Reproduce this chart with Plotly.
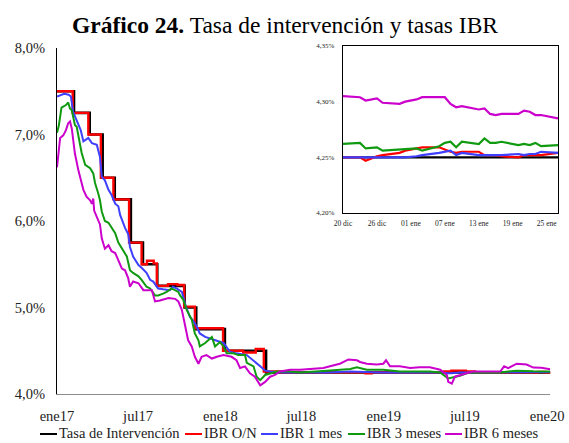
import plotly.graph_objects as go

FONT = "'Liberation Serif', 'Times New Roman', serif"

# ---------------- Main chart data (daily series) ----------------
tasa_dates = ["2017-01-20", "2017-02-27", "2017-04-03", "2017-05-02", "2017-05-29",
              "2017-07-04", "2017-07-31", "2017-09-01", "2017-11-01", "2017-11-27",
              "2018-01-30", "2018-05-02", "2020-01-27"]
tasa_vals = [7.50, 7.25, 7.00, 6.50, 6.25,
             5.75, 5.50, 5.25, 5.00, 4.75,
             4.50, 4.25, 4.25]

on_dates = ["2017-01-20", "2017-02-24", "2017-03-31", "2017-04-28", "2017-05-26",
            "2017-06-30", "2017-07-28", "2017-08-09", "2017-08-24", "2017-08-31",
            "2017-09-25", "2017-10-16", "2017-10-31", "2017-11-24", "2018-01-26",
            "2018-03-12", "2018-04-09", "2018-04-27", "2018-06-05", "2018-12-10",
            "2018-12-24", "2019-06-03", "2019-06-20", "2019-07-22", "2019-08-12",
            "2019-12-24", "2019-12-26", "2019-12-31", "2020-01-08", "2020-01-14",
            "2020-01-27"]
on_vals = [7.50, 7.25, 7.00, 6.50, 6.25,
           5.75, 5.50, 5.54, 5.51, 5.25,
           5.27, 5.26, 5.01, 4.76, 4.50,
           4.48, 4.52, 4.26, 4.25, 4.24,
           4.25, 4.26, 4.27, 4.26, 4.25,
           4.247, 4.251, 4.256, 4.255, 4.252,
           4.254]

ibr1_dates = ["2017-01-20", "2017-01-25", "2017-02-05", "2017-02-15", "2017-02-20",
              "2017-02-25", "2017-03-05", "2017-03-14", "2017-03-20", "2017-03-31",
              "2017-04-08", "2017-04-19", "2017-04-26", "2017-04-30", "2017-05-07",
              "2017-05-15", "2017-05-22", "2017-05-30", "2017-06-06", "2017-06-10",
              "2017-06-21", "2017-06-28", "2017-07-02", "2017-07-09", "2017-07-21",
              "2017-07-28", "2017-08-08", "2017-08-16", "2017-08-23", "2017-09-03",
              "2017-09-14", "2017-09-29", "2017-10-06", "2017-10-14", "2017-10-26",
              "2017-11-04", "2017-11-13", "2017-11-20", "2017-11-28", "2017-12-05",
              "2017-12-17", "2018-01-08", "2018-01-27", "2018-02-10", "2018-02-25",
              "2018-03-20", "2018-04-04", "2018-04-19", "2018-04-30", "2018-05-11",
              "2018-06-10", "2018-09-15", "2018-11-06", "2019-01-12", "2019-03-20",
              "2019-05-26", "2019-06-13", "2019-06-21", "2019-07-09", "2019-08-08",
              "2019-10-07", "2019-12-20", "2020-01-08", "2020-01-27"]
ibr1_vals = [7.44, 7.45, 7.47, 7.46, 7.44,
             7.26, 7.17, 7.05, 6.92, 6.96,
             6.90, 6.88, 6.74, 6.51, 6.47,
             6.36, 6.30, 6.20, 6.17, 6.07,
             5.92, 5.85, 5.70, 5.59, 5.49,
             5.46, 5.40, 5.32, 5.30, 5.22,
             5.21, 5.20, 5.24, 5.22, 5.18,
             5.01, 4.89, 4.85, 4.78, 4.70,
             4.66, 4.62, 4.59, 4.49, 4.47,
             4.45, 4.39, 4.32, 4.27, 4.26,
             4.25, 4.25, 4.26, 4.25, 4.25,
             4.25, 4.24, 4.24, 4.25, 4.25,
             4.25, 4.25, 4.256, 4.254]

ibr3_dates = ["2017-01-20", "2017-01-24", "2017-01-30", "2017-02-09", "2017-02-14",
              "2017-02-18", "2017-02-22", "2017-02-25", "2017-03-01", "2017-03-05",
              "2017-03-09", "2017-03-12", "2017-03-16", "2017-03-24", "2017-04-04",
              "2017-04-11", "2017-04-15", "2017-04-22", "2017-04-26", "2017-04-30",
              "2017-05-07", "2017-05-15", "2017-05-22", "2017-05-30", "2017-06-06",
              "2017-06-17", "2017-06-25", "2017-07-02", "2017-07-09", "2017-07-21",
              "2017-07-28", "2017-08-08", "2017-08-16", "2017-08-27", "2017-09-03",
              "2017-09-14", "2017-09-22", "2017-10-03", "2017-10-11", "2017-10-18",
              "2017-10-22", "2017-10-29", "2017-11-06", "2017-11-17", "2017-11-24",
              "2017-12-02", "2017-12-05", "2017-12-17", "2018-01-01", "2018-01-08",
              "2018-01-19", "2018-01-27", "2018-02-03", "2018-02-18", "2018-03-01",
              "2018-03-16", "2018-03-20", "2018-03-27", "2018-04-04", "2018-04-11",
              "2018-04-19", "2018-04-30", "2018-05-11", "2018-05-26", "2018-06-25",
              "2018-07-17", "2018-09-15", "2018-10-14", "2018-11-06", "2018-11-21",
              "2018-12-13", "2019-01-19", "2019-02-25", "2019-05-03", "2019-05-26",
              "2019-06-13", "2019-06-28", "2019-07-09", "2019-07-24", "2019-08-08",
              "2019-10-07", "2019-10-25", "2019-11-13", "2019-12-20", "2020-01-08",
              "2020-01-27"]
ibr3_vals = [7.02, 7.10, 7.31, 7.34, 7.37,
             7.30, 7.28, 7.19, 7.11, 7.09,
             6.99, 6.90, 6.79, 6.65, 6.61,
             6.55, 6.44, 6.32, 6.24, 6.11,
             6.00, 5.98, 5.93, 5.86, 5.75,
             5.66, 5.59, 5.43, 5.40, 5.36,
             5.32, 5.24, 5.22, 5.14, 5.14,
             5.16, 5.18, 5.22, 5.20, 5.18,
             5.14, 5.09, 4.97, 4.86, 4.70,
             4.62, 4.55, 4.59, 4.66, 4.55,
             4.60, 4.55, 4.47, 4.47, 4.45,
             4.45, 4.36, 4.34, 4.32, 4.20,
             4.16, 4.22, 4.24, 4.26, 4.26,
             4.25, 4.27, 4.28, 4.29, 4.31,
             4.28, 4.28, 4.26, 4.26, 4.25,
             4.18, 4.20, 4.21, 4.24, 4.25,
             4.25, 4.26, 4.27, 4.262, 4.264,
             4.261]

ibr6_dates = ["2017-01-20", "2017-01-27", "2017-02-03", "2017-02-09", "2017-02-14",
              "2017-02-18", "2017-02-22", "2017-02-25", "2017-03-01", "2017-03-09",
              "2017-03-16", "2017-03-20", "2017-03-27", "2017-04-04", "2017-04-08",
              "2017-04-11", "2017-04-13", "2017-04-22", "2017-04-26", "2017-04-30",
              "2017-05-07", "2017-05-15", "2017-05-22", "2017-05-30", "2017-06-06",
              "2017-06-14", "2017-06-21", "2017-06-28", "2017-07-02", "2017-07-09",
              "2017-07-21", "2017-08-01", "2017-08-20", "2017-08-27", "2017-09-07",
              "2017-09-14", "2017-09-26", "2017-10-11", "2017-10-18", "2017-10-26",
              "2017-11-02", "2017-11-09", "2017-11-17", "2017-11-24", "2017-12-02",
              "2017-12-09", "2017-12-20", "2018-01-01", "2018-01-12", "2018-01-27",
              "2018-02-14", "2018-02-25", "2018-03-05", "2018-03-16", "2018-03-27",
              "2018-04-07", "2018-04-19", "2018-04-30", "2018-05-11", "2018-05-22",
              "2018-06-02", "2018-06-25", "2018-07-17", "2018-09-07", "2018-10-07",
              "2018-10-14", "2018-11-02", "2018-11-21", "2018-11-28", "2018-12-13",
              "2019-01-04", "2019-01-19", "2019-01-25", "2019-02-03", "2019-02-25",
              "2019-03-20", "2019-04-10", "2019-05-03", "2019-05-26", "2019-06-10",
              "2019-06-13", "2019-06-21", "2019-06-28", "2019-07-09", "2019-07-24",
              "2019-08-08", "2019-10-07", "2019-10-16", "2019-10-25", "2019-11-13",
              "2019-12-05", "2019-12-20", "2020-01-07", "2020-01-27"]
ibr6_vals = [6.62, 6.96, 6.99, 7.05, 7.13,
             7.15, 7.07, 6.94, 6.78, 6.58,
             6.45, 6.36, 6.28, 6.24, 6.20,
             6.26, 6.12, 6.00, 5.96, 5.80,
             5.68, 5.72, 5.65, 5.63, 5.55,
             5.45, 5.43, 5.34, 5.24, 5.30,
             5.28, 5.20, 5.20, 5.07, 5.08,
             5.09, 5.11, 5.10, 5.07, 4.97,
             4.80, 4.62, 4.55, 4.43, 4.35,
             4.43, 4.45, 4.41, 4.43, 4.45,
             4.43, 4.39, 4.30, 4.32, 4.24,
             4.20, 4.10, 4.14, 4.20, 4.22,
             4.26, 4.28, 4.28, 4.30, 4.34,
             4.35, 4.40, 4.39, 4.37, 4.35,
             4.34, 4.35, 4.39, 4.32, 4.32,
             4.30, 4.31, 4.31, 4.28, 4.22,
             4.14, 4.12, 4.20, 4.22, 4.24,
             4.26, 4.26, 4.32, 4.30, 4.35,
             4.34, 4.305, 4.304, 4.285]

main_tick_dates = ["2017-01-20", "2017-07-20", "2018-01-20", "2018-07-20",
                   "2019-01-20", "2019-07-20", "2020-01-20"]
main_tick_labels = ["ene17", "jul17", "ene18", "jul18", "ene19", "jul19", "ene20"]
y_tick_vals = [4, 5, 6, 7, 8]
y_tick_labels = ["4,0%", "5,0%", "6,0%", "7,0%", "8,0%"]

# ---------------- Inset data (20 dic 2019 - 27 ene 2020) ----------------
inset_dates = ["2019-12-20", "2019-12-23", "2019-12-24", "2019-12-26", "2019-12-27",
               "2019-12-30", "2019-12-31", "2020-01-02", "2020-01-03", "2020-01-06",
               "2020-01-07", "2020-01-08", "2020-01-09", "2020-01-10", "2020-01-13",
               "2020-01-14", "2020-01-15", "2020-01-16", "2020-01-17", "2020-01-20",
               "2020-01-21", "2020-01-22", "2020-01-23", "2020-01-24", "2020-01-27"]
inset_tasa = [4.25] * 25
inset_on = [4.250, 4.250, 4.247, 4.251, 4.252, 4.254, 4.256, 4.258, 4.259, 4.259,
            4.257, 4.255, 4.254, 4.255, 4.255, 4.252, 4.252, 4.252, 4.251, 4.250,
            4.252, 4.252, 4.252, 4.252, 4.254]
inset_1m = [4.250, 4.250, 4.250, 4.250, 4.250, 4.250, 4.250, 4.251, 4.252, 4.254,
            4.255, 4.256, 4.252, 4.254, 4.252, 4.252, 4.252, 4.252, 4.252, 4.253,
            4.252, 4.253, 4.253, 4.255, 4.254]
inset_3m = [4.262, 4.263, 4.258, 4.259, 4.256, 4.257, 4.258, 4.258, 4.256, 4.260,
            4.263, 4.264, 4.259, 4.264, 4.262, 4.267, 4.263, 4.263, 4.264, 4.261,
            4.262, 4.261, 4.263, 4.260, 4.261]
inset_6m = [4.305, 4.304, 4.301, 4.303, 4.299, 4.298, 4.300, 4.302, 4.304, 4.304,
            4.304, 4.298, 4.295, 4.296, 4.293, 4.294, 4.289, 4.288, 4.289, 4.289,
            4.292, 4.291, 4.288, 4.288, 4.285]
inset_tick_dates = ["2019-12-20", "2019-12-26", "2020-01-01", "2020-01-07",
                    "2020-01-13", "2020-01-19", "2020-01-25"]
inset_tick_labels = ["20 dic", "26 dic", "01 ene", "07 ene", "13 ene", "19 ene", "25 ene"]
inset_y_vals = [4.20, 4.25, 4.30, 4.35]
inset_y_labels = ["4,20%", "4,25%", "4,30%", "4,35%"]

names = ["Tasa de Intervención", "IBR O/N", "IBR 1 mes", "IBR 3 meses", "IBR 6 meses"]
colors = ["#000000", "#FF0000", "#3F3FFF", "#109A10", "#CC00CC"]
widths = [2.6, 2.4, 2.0, 2.0, 2.0]

main_series = [(tasa_dates, tasa_vals, "hv"), (on_dates, on_vals, "hv"),
               (ibr1_dates, ibr1_vals, "linear"), (ibr3_dates, ibr3_vals, "linear"),
               (ibr6_dates, ibr6_vals, "linear")]
inset_series = [inset_tasa, inset_on, inset_1m, inset_3m, inset_6m]

# ---------------- geometry (pixels) ----------------
W, H = 569, 443
ML, MR, MT, MB = 57, 11, 46, 49
PW, PH = W - ML - MR, H - MT - MB


def px_x(px):
    return (px - ML) / PW


def px_y(py):
    return (H - MB - py) / PH


fig = go.Figure()
for (d, v, shp), nm, c, w in zip(main_series, names, colors, widths):
    fig.add_trace(go.Scatter(x=d, y=v, name=nm, mode="lines",
                             line=dict(color=c, width=w, shape=shp),
                             showlegend=False, xaxis="x", yaxis="y"))
for v, nm, c in zip(inset_series, names, colors):
    fig.add_trace(go.Scatter(x=inset_dates, y=v, name=nm, mode="lines",
                             line=dict(color=c, width=2.2),
                             showlegend=False, xaxis="x2", yaxis="y2"))

# legend row (key line + label), drawn below the plot
legend_text_x = [58, 203, 279, 366, 463]
legend_y = 433
shapes = []
annotations = [
    dict(text="<b>Gráfico 24.</b> Tasa de intervención y tasas IBR",
         xref="paper", yref="paper", x=px_x(285), y=px_y(25),
         xanchor="center", yanchor="middle", showarrow=False,
         font=dict(family=FONT, size=23.5, color="#000000")),
]
for tx, nm, c in zip(legend_text_x, names, colors):
    shapes.append(dict(type="line", xref="paper", yref="paper",
                       x0=px_x(tx - 18), x1=px_x(tx - 1),
                       y0=px_y(legend_y + 1), y1=px_y(legend_y + 1),
                       line=dict(color=c, width=2)))
    annotations.append(dict(text=nm, xref="paper", yref="paper",
                            x=px_x(tx - 1), y=px_y(legend_y),
                            xanchor="left", yanchor="middle", showarrow=False,
                            font=dict(family=FONT, size=14.5, color="#222222")))

fig.update_layout(
    width=W, height=H, autosize=False,
    margin=dict(l=ML, r=MR, t=MT, b=MB, pad=0, autoexpand=False),
    paper_bgcolor="white", plot_bgcolor="white",
    font=dict(family=FONT, size=14.5, color="#222222"),
    xaxis=dict(domain=[0, px_x(550.3)], type="date", range=["2017-01-20", "2020-01-27"],
               tickvals=main_tick_dates, ticktext=main_tick_labels, automargin=False,
               showgrid=False, zeroline=False, showline=True, linecolor="#8C8C8C",
               linewidth=1.3, ticks="", ticklabelstandoff=8,
               tickfont=dict(family=FONT, size=14.5, color="#222222")),
    yaxis=dict(domain=[0, px_y(48)], range=[4, 8], automargin=False,
               tickvals=y_tick_vals, ticktext=y_tick_labels,
               showgrid=False, zeroline=False, showline=True, linecolor="#000000",
               linewidth=1.2, ticks="", ticklabelstandoff=8,
               tickfont=dict(family=FONT, size=14.5, color="#222222")),
    xaxis2=dict(domain=[px_x(343), 1.0], anchor="y2", type="date",
                range=["2019-12-20", "2020-01-27"], automargin=False,
                tickvals=inset_tick_dates, ticktext=inset_tick_labels,
                showgrid=False, zeroline=False, showline=True, mirror=True,
                linecolor="#000000", linewidth=1.3, ticks="", ticklabelstandoff=3,
                tickfont=dict(family=FONT, size=7.5, color="#222222")),
    yaxis2=dict(domain=[px_y(213), 1.0], anchor="x2", range=[4.20, 4.35],
                automargin=False,
                tickvals=inset_y_vals, ticktext=inset_y_labels,
                showgrid=False, zeroline=False, showline=True, mirror=True,
                linecolor="#000000", linewidth=1.3, ticks="", ticklabelstandoff=6,
                tickfont=dict(family=FONT, size=7, color="#222222")),
    shapes=shapes,
    annotations=annotations,
)

# remove the browser's default 8px page margin so the figure sits at (0, 0)
fig.write_html("out.html", config={"displayModeBar": False},
               post_script="document.body.style.margin='0px';")
